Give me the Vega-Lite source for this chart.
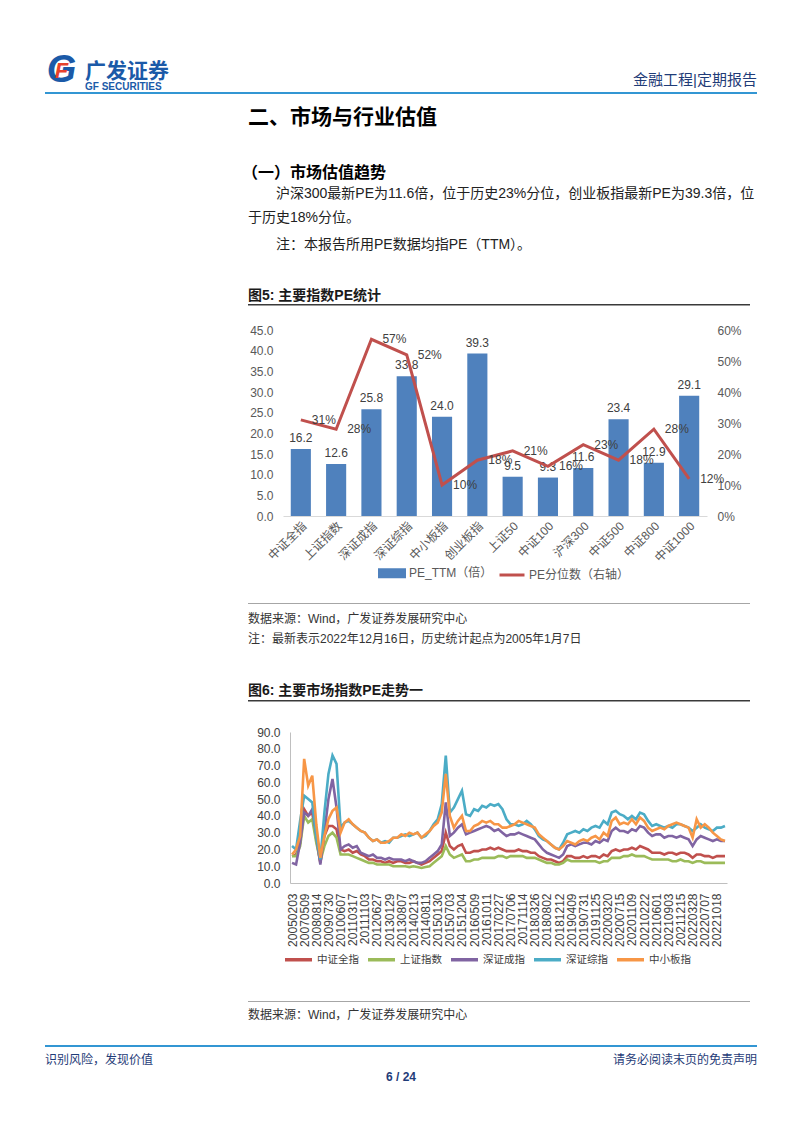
{
"$schema": "https://vega.github.io/schema/vega-lite/v6.json",
"background": "white",
"padding": {"left": 45, "top": 0, "right": 0, "bottom": 0},
"columns": 3,
"spacing": 0,
"bounds": "flush",
"align": "each",
"resolve": {"scale": {"color": "independent"}, "legend": {"color": "independent"}},
"datasets": {"e": []},
"config": {
  "view": {"stroke": null},
  "font": "Liberation Sans, Noto Sans CJK SC",
  "title": {"frame": "group", "anchor": "start", "offset": -1, "color": "#1a1a1a", "font": "Liberation Sans, Noto Sans CJK SC", "fontWeight": "normal", "fontSize": 14, "limit": 900},
  "axis": {"labelFont": "Liberation Sans, Noto Sans CJK SC", "labelFontSize": 12, "labelColor": "#595959", "ticks": false, "grid": false, "title": null},
  "legend": {"labelFont": "Liberation Sans, Noto Sans CJK SC", "labelFontSize": 12, "labelColor": "#404040", "title": null}
},
"concat": [
  {"width": 1, "height": 57, "data": {"name": "e"}, "mark": "point"},
  {"width": 1, "height": 0.01, "data": {"name": "e"}, "mark": "point"},
  {"width": 1, "height": 0.01, "data": {"name": "e"}, "mark": "point"},

  {"width": 33, "height": 28, "data": {"values": [{"g": "G", "f": "F"}]},
   "layer": [
     {"mark": {"type": "text", "font": "Liberation Sans", "fontSize": 38, "fontWeight": "bold", "fontStyle": "italic", "color": "#1B5AA8", "baseline": "middle"}, "encoding": {"text": {"field": "g", "type": "nominal"}}},
     {"mark": {"type": "text", "font": "Liberation Sans", "fontSize": 22, "fontWeight": "bold", "fontStyle": "italic", "color": "#E8412C", "baseline": "middle"}, "encoding": {"text": {"field": "f", "type": "nominal"}}}
   ],
   "title": {"text": "广发证券", "subtitle": "GF SECURITIES", "fontSize": 21, "fontWeight": "bold", "color": "#1B5AA8", "subtitleFont": "Liberation Sans", "subtitleFontSize": 10, "subtitleFontWeight": "bold", "subtitleColor": "#1B5AA8", "subtitlePadding": 0, "dx": 40, "offset": -40}},
  {"width": 1, "height": 35, "data": {"name": "e"}, "mark": "point"},
  {"width": 474, "height": 0.01, "data": {"name": "e"}, "mark": "point",
   "title": {"text": "金融工程|定期报告", "anchor": "end", "fontSize": 15, "color": "#1F3C78", "offset": -30.7}},

  {"width": 203, "height": 2, "data": {"name": "e"}, "mark": "point", "view": {"fill": "#3396D3", "stroke": null}},
  {"width": 35, "height": 2, "data": {"name": "e"}, "mark": "point", "view": {"fill": "#3396D3", "stroke": null}},
  {"width": 474, "height": 2, "data": {"name": "e"}, "mark": "point", "view": {"fill": "#3396D3", "stroke": null}},

  {"width": 1, "height": 33, "data": {"name": "e"}, "mark": "point"},
  {"width": 1, "height": 0.01, "data": {"name": "e"}, "mark": "point"},
  {"width": 1, "height": 0.01, "data": {"name": "e"}, "mark": "point"},

  {"width": 1, "height": 53, "data": {"name": "e"}, "mark": "point"},
  {"width": 1, "height": 0.01, "data": {"name": "e"}, "mark": "point", "title": {"text": "二、市场与行业估值", "fontSize": 21, "fontWeight": "bold", "color": "#000000", "offset": -0.5}},
  {"width": 1, "height": 0.01, "data": {"name": "e"}, "mark": "point"},

  {"width": 1, "height": 20, "data": {"name": "e"}, "mark": "point"},
  {"width": 1, "height": 0.01, "data": {"name": "e"}, "mark": "point", "title": {"text": "（一）市场估值趋势", "fontSize": 16, "fontWeight": "bold", "color": "#000000", "dx": -6}},
  {"width": 1, "height": 0.01, "data": {"name": "e"}, "mark": "point"},

  {"width": 1, "height": 24, "data": {"name": "e"}, "mark": "point"},
  {"width": 1, "height": 0.01, "data": {"name": "e"}, "mark": "point", "title": {"text": "沪深300最新PE为11.6倍，位于历史23%分位，创业板指最新PE为39.3倍，位", "fontSize": 14, "color": "#222222", "dx": 28}},
  {"width": 1, "height": 0.01, "data": {"name": "e"}, "mark": "point"},

  {"width": 1, "height": 27, "data": {"name": "e"}, "mark": "point"},
  {"width": 1, "height": 0.01, "data": {"name": "e"}, "mark": "point", "title": {"text": "于历史18%分位。", "fontSize": 14, "color": "#222222"}},
  {"width": 1, "height": 0.01, "data": {"name": "e"}, "mark": "point"},

  {"width": 1, "height": 51, "data": {"name": "e"}, "mark": "point"},
  {"width": 1, "height": 0.01, "data": {"name": "e"}, "mark": "point", "title": {"text": "注：本报告所用PE数据均指PE（TTM）。", "fontSize": 14, "color": "#222222", "dx": 28}},
  {"width": 1, "height": 0.01, "data": {"name": "e"}, "mark": "point"},

  {"width": 1, "height": 2, "data": {"name": "e"}, "mark": "point"},
  {"width": 1, "height": 0.01, "data": {"name": "e"}, "mark": "point", "title": {"text": "图5:  主要指数PE统计", "fontSize": 14, "fontWeight": "bold", "color": "#1a1a1a"}},
  {"width": 1, "height": 0.01, "data": {"name": "e"}, "mark": "point"},

  {"width": 1, "height": 1.5, "data": {"name": "e"}, "mark": "point"},
  {"width": 35, "height": 1.5, "data": {"name": "e"}, "mark": "point", "view": {"fill": "#3a3a3a", "stroke": null}},
  {"width": 467, "height": 1.5, "data": {"name": "e"}, "mark": "point", "view": {"fill": "#3a3a3a", "stroke": null}},

  {"width": 1, "height": 24, "data": {"name": "e"}, "mark": "point"},
  {"width": 1, "height": 0.01, "data": {"name": "e"}, "mark": "point"},
  {"width": 1, "height": 0.01, "data": {"name": "e"}, "mark": "point"},

  {"width": 1, "height": 186, "data": {"name": "e"}, "mark": "point"},
  {"width": 1, "height": 0.01, "data": {"name": "e"}, "mark": "point"},
  {"width": 424, "height": 186,
   "data": {"values": [
     {"name": "中证全指", "pe": 16.2, "pct": 0.31},
     {"name": "上证指数", "pe": 12.6, "pct": 0.28},
     {"name": "深证成指", "pe": 25.8, "pct": 0.57},
     {"name": "深证综指", "pe": 33.8, "pct": 0.52},
     {"name": "中小板指", "pe": 24.0, "pct": 0.10},
     {"name": "创业板指", "pe": 39.3, "pct": 0.18},
     {"name": "上证50", "pe": 9.5, "pct": 0.21},
     {"name": "中证100", "pe": 9.3, "pct": 0.16},
     {"name": "沪深300", "pe": 11.6, "pct": 0.23},
     {"name": "中证500", "pe": 23.4, "pct": 0.18},
     {"name": "中证800", "pe": 12.9, "pct": 0.28},
     {"name": "中证1000", "pe": 29.1, "pct": 0.12}
   ]},
   "encoding": {
     "x": {"field": "name", "type": "nominal", "sort": null,
       "scale": {"paddingInner": 0.43, "paddingOuter": 0.22},
       "axis": {"labelAngle": -45, "domainColor": "#D9D9D9", "domainWidth": 1, "labelPadding": 4, "labelColor": "#595959", "title": null}}
   },
   "layer": [
     {"encoding": {"y": {"field": "pe", "type": "quantitative", "scale": {"domain": [0, 45]},
        "axis": {"values": [0, 5, 10, 15, 20, 25, 30, 35, 40, 45], "format": ".1f", "domain": false, "labelPadding": 10, "title": null}}},
      "layer": [
        {"mark": {"type": "bar"},
         "encoding": {"color": {"datum": "PE_TTM（倍）", "type": "nominal",
           "scale": {"domain": ["PE_TTM（倍）", "PE分位数（右轴）"], "range": ["#4F81BD", "#C0504D"]},
           "legend": {"orient": "none", "legendX": 95, "legendY": 229, "padding": 0, "direction": "horizontal", "title": null, "symbolSize": 625, "labelColor": "#595959", "columnPadding": 0, "labelOffset": 3,
             "encode": {"symbols": {"update": {
               "shape": {"signal": "datum.value === 'PE_TTM（倍）' ? 'M-1,-0.28H1V0.28H-1Z' : 'M-1,0H1'"},
               "fill": {"signal": "datum.value === 'PE_TTM（倍）' ? '#4F81BD' : 'transparent'"},
               "stroke": {"signal": "datum.value === 'PE_TTM（倍）' ? 'transparent' : '#C0504D'"},
               "strokeWidth": {"value": 3}}}}}}}},
        {"mark": {"type": "text", "dy": -11, "fontSize": 12, "color": "#404040"},
         "encoding": {"text": {"field": "pe", "type": "quantitative", "format": ".1f"}}}
      ]},
     {"encoding": {"y": {"field": "pct", "type": "quantitative", "scale": {"domain": [0, 0.6]},
        "axis": {"orient": "right", "values": [0, 0.1, 0.2, 0.3, 0.4, 0.5, 0.6], "format": ".0%", "domain": false, "labelPadding": 10, "title": null}}},
      "layer": [
        {"mark": {"type": "line", "strokeWidth": 3},
         "encoding": {"color": {"datum": "PE分位数（右轴）", "type": "nominal"}}},
        {"mark": {"type": "text", "align": "left", "dx": 11, "fontSize": 12, "color": "#404040"},
         "encoding": {"text": {"field": "pct", "type": "quantitative", "format": ".0%"}}}
      ]}
   ],
   "resolve": {"scale": {"y": "independent"}}
  },

  {"width": 1, "height": 87, "data": {"name": "e"}, "mark": "point"},
  {"width": 1, "height": 0.01, "data": {"name": "e"}, "mark": "point"},
  {"width": 1, "height": 0.01, "data": {"name": "e"}, "mark": "point"},

  {"width": 1, "height": 1, "data": {"name": "e"}, "mark": "point"},
  {"width": 35, "height": 1, "data": {"name": "e"}, "mark": "point", "view": {"fill": "#A6A6A6", "stroke": null}},
  {"width": 467, "height": 1, "data": {"name": "e"}, "mark": "point", "view": {"fill": "#A6A6A6", "stroke": null}},

  {"width": 1, "height": 20, "data": {"name": "e"}, "mark": "point"},
  {"width": 1, "height": 0.01, "data": {"name": "e"}, "mark": "point"},
  {"width": 1, "height": 0.01, "data": {"name": "e"}, "mark": "point"},

  {"width": 1, "height": 20, "data": {"name": "e"}, "mark": "point"},
  {"width": 1, "height": 0.01, "data": {"name": "e"}, "mark": "point", "title": {"text": "数据来源：Wind，广发证券发展研究中心", "fontSize": 12, "color": "#333333", "offset": -1.8}},
  {"width": 1, "height": 0.01, "data": {"name": "e"}, "mark": "point"},

  {"width": 1, "height": 53, "data": {"name": "e"}, "mark": "point"},
  {"width": 1, "height": 0.01, "data": {"name": "e"}, "mark": "point", "title": {"text": "注：最新表示2022年12月16日，历史统计起点为2005年1月7日", "fontSize": 12, "color": "#333333", "offset": -2.2}},
  {"width": 1, "height": 0.01, "data": {"name": "e"}, "mark": "point"},

  {"width": 1, "height": 3, "data": {"name": "e"}, "mark": "point"},
  {"width": 1, "height": 0.01, "data": {"name": "e"}, "mark": "point", "title": {"text": "图6:  主要市场指数PE走势一", "fontSize": 14, "fontWeight": "bold", "color": "#1a1a1a"}},
  {"width": 1, "height": 0.01, "data": {"name": "e"}, "mark": "point"},

  {"width": 1, "height": 1.5, "data": {"name": "e"}, "mark": "point"},
  {"width": 35, "height": 1.5, "data": {"name": "e"}, "mark": "point", "view": {"fill": "#3a3a3a", "stroke": null}},
  {"width": 467, "height": 1.5, "data": {"name": "e"}, "mark": "point", "view": {"fill": "#3a3a3a", "stroke": null}},

  {"width": 1, "height": 30, "data": {"name": "e"}, "mark": "point"},
  {"width": 1, "height": 0.01, "data": {"name": "e"}, "mark": "point"},
  {"width": 1, "height": 0.01, "data": {"name": "e"}, "mark": "point"},

  {"width": 1, "height": 151, "data": {"name": "e"}, "mark": "point"},
  {"width": 1, "height": 0.01, "data": {"name": "e"}, "mark": "point"},
  {"width": 444, "height": 151,
   "data": {"values": [
{"d":"20050203","中证全指":16,"上证指数":16,"深证成指":12,"深证综指":22,"中小板指":17},
{"d":"20051110","中证全指":17,"上证指数":16,"深证成指":11,"深证综指":20,"中小板指":20},
{"d":"20060815","中证全指":24,"上证指数":22,"深证成指":24,"深证综指":37,"中小板指":28},
{"d":"20070509","中证全指":44,"上证指数":40,"深证成指":42,"深证综指":52,"中小板指":74},
{"d":"20071010","中证全指":40,"上证指数":36,"深证成指":40,"深证综指":50,"中小板指":58},
{"d":"20080320","中证全指":42,"上证指数":38,"深证成指":44,"深证综指":48,"中小板指":64},
{"d":"20080814","中证全指":26,"上证指数":24,"深证成指":28,"深证综指":28,"中小板指":35},
{"d":"20081125","中证全指":12,"上证指数":13,"深证成指":11,"深证综指":14,"中小板指":15},
{"d":"20090415","中证全指":28,"上证指数":22,"深证成指":30,"深证综指":42,"中小板指":28},
{"d":"20090730","中证全指":34,"上证指数":28,"深证成指":50,"深证综指":65,"中小板指":38},
{"d":"20091110","中证全指":34,"上证指数":30,"深证成指":62,"深证综指":76,"中小板指":43},
{"d":"20100222","中证全指":32,"上证指数":27,"深证成指":45,"深证综指":71,"中小板指":45},
{"d":"20100607","中证全指":20,"上证指数":17,"深证成指":20,"深证综指":33,"中小板指":30},
{"d":"20100909","中证全指":19,"上证指数":17,"深证成指":22,"深证综指":36,"中小板指":36},
{"d":"20101213","中证全指":20,"上证指数":17,"深证成指":23,"深证综指":37,"中小板指":38},
{"d":"20110317","中证全指":18,"上证指数":16,"深证成指":21,"深证综指":35,"中小板指":35},
{"d":"20110620","中证全指":19,"上证指数":15,"深证成指":22,"深证综指":33,"中小板指":33},
{"d":"20110819","中证全指":17,"上证指数":14,"深证成指":18,"深证综指":31,"中小板指":31},
{"d":"20111103","中证全指":16,"上证指数":13,"深证成指":17,"深证综指":30,"中小板指":30},
{"d":"20120216","中证全指":14,"上证指数":12,"深证成指":16,"深证综指":27,"中小板指":27},
{"d":"20120420","中证全指":14,"上证指数":12,"深证成指":17,"深证综指":25,"中小板指":25},
{"d":"20120627","中证全指":13,"上证指数":11,"深证成指":15,"深证综指":26,"中小板指":26},
{"d":"20120920","中证全指":13,"上证指数":11,"深证成指":15,"深证综指":24,"中小板指":24},
{"d":"20121120","中证全指":12,"上证指数":11,"深证成指":14,"深证综指":25,"中小板指":24},
{"d":"20130129","中证全指":13,"上证指数":11,"深证成指":15,"深证综指":24,"中小板指":25},
{"d":"20130415","中证全指":12,"上证指数":10,"深证成指":14,"深证综指":27,"中小板指":27},
{"d":"20130614","中证全指":13,"上证指数":10,"深证成指":14,"深证综指":27,"中小板指":27},
{"d":"20130807","中证全指":13,"上证指数":10,"深证成指":14,"深证综指":28,"中小板指":29},
{"d":"20131021","中证全指":12,"上证指数":10,"深证成指":13,"深证综指":29,"中小板指":28},
{"d":"20131210","中证全指":12,"上证指数":9.5,"深证成指":14,"深证综指":28,"中小板指":30},
{"d":"20140213","中证全指":13,"上证指数":10,"深证成指":13,"深证综指":29,"中小板指":29},
{"d":"20140418","中证全指":12,"上证指数":9.5,"深证成指":12,"深证综指":30,"中小板指":30},
{"d":"20140616","中证全指":11,"上证指数":9,"深证成指":12,"深证综指":27,"中小板指":27},
{"d":"20140811","中证全指":12,"上证指数":9.5,"深证成指":13,"深证综指":28,"中小板指":29},
{"d":"20141015","中证全指":13,"上证指数":10,"深证成指":15,"深证综指":31,"中小板指":31},
{"d":"20141205","中证全指":15,"上证指数":12,"深证成指":17,"深证综指":35,"中小板指":34},
{"d":"20150130","中证全指":17,"上证指数":14,"深证成指":19,"深证综指":38,"中小板指":36},
{"d":"20150403","中证全指":19,"上证指数":16,"深证成指":23,"深证综指":47,"中小板指":42},
{"d":"20150605","中证全指":30,"上证指数":22,"深证成指":48,"深证综指":76,"中小板指":65},
{"d":"20150703","中证全指":22,"上证指数":17,"深证成指":28,"深证综指":42,"中小板指":40},
{"d":"20150902","中证全指":20,"上证指数":15,"深证成指":30,"深证综指":45,"中小板指":33},
{"d":"20151020","中证全指":22,"上证指数":16,"深证成指":33,"深证综指":50,"中小板指":37},
{"d":"20151204","中证全指":23,"上证指数":17,"深证成指":35,"深证综指":55,"中小板指":40},
{"d":"20160203","中证全指":18,"上证指数":13,"深证成指":29,"深证综指":41,"中小板指":31},
{"d":"20160315","中证全指":18,"上证指数":13,"深证成指":30,"深证综指":40,"中小板指":31},
{"d":"20160509","中证全指":19,"上证指数":14,"深证成指":31,"深证综指":44,"中小板指":34},
{"d":"20160701","中证全指":19,"上证指数":14,"深证成指":32,"深证综指":43,"中小板指":35},
{"d":"20160829","中证全指":20,"上证指数":15,"深证成指":33,"深证综指":46,"中小板指":37},
{"d":"20161011","中证全指":20,"上证指数":15,"深证成指":34,"深证综指":45,"中小板指":36},
{"d":"20161125","中证全指":21,"上证指数":15,"深证成指":33,"深证综指":47,"中小板指":37},
{"d":"20170110","中证全指":20,"上证指数":15,"深证成指":31,"深证综指":46,"中小板指":35},
{"d":"20170227","中证全指":21,"上证指数":16,"深证成指":32,"深证综指":47,"中小板指":35},
{"d":"20170426","中证全指":20,"上证指数":16,"深证成指":30,"深证综指":44,"中小板指":33},
{"d":"20170531","中证全指":19,"上证指数":15,"深证成指":28,"深证综指":38,"中小板指":33},
{"d":"20170706","中证全指":19,"上证指数":16,"深证成指":29,"深证综指":35,"中小板指":34},
{"d":"20170822","中证全指":19,"上证指数":16,"深证成指":29,"深证综指":35,"中小板指":35},
{"d":"20170929","中证全指":20,"上证指数":16,"深证成指":30,"深证综指":34,"中小板指":37},
{"d":"20171114","中证全指":19,"上证指数":16,"深证成指":29,"深证综指":35,"中小板指":36},
{"d":"20171228","中证全指":19,"上证指数":15,"深证成指":28,"深证综指":37,"中小板指":35},
{"d":"20180208","中证全指":18,"上证指数":15,"深证成指":27,"深证综指":35,"中小板指":34},
{"d":"20180326","中证全指":18,"上证指数":15,"深证成指":26,"深证综指":32,"中小板指":33},
{"d":"20180510","中证全指":16,"上证指数":14,"深证成指":23,"深证综指":28,"中小板指":29},
{"d":"20180619","中证全指":15,"上证指数":13,"深证成指":20,"深证综指":26,"中小板指":27},
{"d":"20180802","中证全指":14,"上证指数":12,"深证成指":18,"深证综指":25,"中小板指":25},
{"d":"20180918","中证全指":14,"上证指数":12,"深证成指":17,"深证综指":23,"中小板指":23},
{"d":"20181029","中证全指":13,"上证指数":11,"深证成指":16,"深证综指":21,"中小板指":21},
{"d":"20181212","中证全指":12,"上证指数":11,"深证成指":15,"深证综指":20,"中小板指":20},
{"d":"20190128","中证全指":13,"上证指数":12,"深证成指":17,"深证综指":24,"中小板指":22},
{"d":"20190304","中证全指":16,"上证指数":14,"深证成指":22,"深证综指":29,"中小板指":25},
{"d":"20190409","中证全指":16,"上证指数":13,"深证成指":23,"深证综指":30,"中小板指":24},
{"d":"20190521","中证全指":15,"上证指数":13,"深证成指":22,"深证综指":31,"中小板指":23},
{"d":"20190626","中证全指":15,"上证指数":13,"深证成指":23,"深证综指":30,"中小板指":25},
{"d":"20190731","中证全指":16,"上证指数":13,"深证成指":24,"深证综指":32,"中小板指":26},
{"d":"20190910","中证全指":15,"上证指数":13,"深证成指":24,"深证综指":31,"中小板指":25},
{"d":"20191021","中证全指":16,"上证指数":13,"深证成指":23,"深证综指":33,"中小板指":27},
{"d":"20191125","中证全指":16,"上证指数":13,"深证成指":25,"深证综指":34,"中小板指":28},
{"d":"20200106","中证全指":15,"上证指数":12,"深证成指":24,"深证综指":33,"中小板指":26},
{"d":"20200214","中证全指":17,"上证指数":13,"深证成指":26,"深证综指":37,"中小板指":30},
{"d":"20200320","中证全指":16,"上证指数":13,"深证成指":25,"深证综指":35,"中小板指":28},
{"d":"20200430","中证全指":19,"上证指数":15,"深证成指":31,"深证综指":42,"中小板指":37},
{"d":"20200608","中证全指":20,"上证指数":15,"深证成指":33,"深证综指":43,"中小板指":39},
{"d":"20200715","中证全指":19,"上证指数":15,"深证成指":31,"深证综指":41,"中小板指":35},
{"d":"20200821","中证全指":20,"上证指数":16,"深证成指":31,"深证综指":40,"中小板指":36},
{"d":"20200929","中证全指":20,"上证指数":16,"深证成指":30,"深证综指":38,"中小板指":35},
{"d":"20201109","中证全指":21,"上证指数":17,"深证成指":32,"深证综指":40,"中小板指":38},
{"d":"20201215","中证全指":20,"上证指数":16,"深证成指":31,"深证综指":38,"中小板指":35},
{"d":"20210122","中证全指":22,"上证指数":16,"深证成指":34,"深证综指":42,"中小板指":39},
{"d":"20210222","中证全指":21,"上证指数":16,"深证成指":33,"深证综指":41,"中小板指":37},
{"d":"20210331","中证全指":20,"上证指数":15,"深证成指":30,"深证综指":37,"中小板指":33},
{"d":"20210507","中证全指":18,"上证指数":14,"深证成指":28,"深证综指":34,"中小板指":31},
{"d":"20210601","中证全指":18,"上证指数":14,"深证成指":29,"深证综指":35,"中小板指":32},
{"d":"20210701","中证全指":18,"上证指数":14,"深证成指":29,"深证综指":34,"中小板指":33},
{"d":"20210804","中证全指":17,"上证指数":14,"深证成指":27,"深证综指":33,"中小板指":32},
{"d":"20210903","中证全指":18,"上证指数":14,"深证成指":28,"深证综指":34,"中小板指":34},
{"d":"20211015","中证全指":18,"上证指数":13,"深证成指":28,"深证综指":33,"中小板指":35},
{"d":"20211115","中证全指":17,"上证指数":13,"深证成指":27,"深证综指":35,"中小板指":36},
{"d":"20211215","中证全指":18,"上证指数":14,"深证成指":28,"深证综指":35,"中小板指":35},
{"d":"20220125","中证全指":18,"上证指数":13,"深证成指":27,"深证综指":34,"中小板指":34},
{"d":"20220228","中证全指":17,"上证指数":13,"深证成指":26,"深证综指":33,"中小板指":33},
{"d":"20220328","中证全指":15,"上证指数":12,"深证成指":22,"深证综指":31,"中小板指":27},
{"d":"20220429","中证全指":17,"上证指数":13,"深证成指":26,"深证综指":33,"中小板指":38},
{"d":"20220606","中证全指":17,"上证指数":13,"深证成指":28,"深证综指":35,"中小板指":33},
{"d":"20220707","中证全指":16,"上证指数":12,"深证成指":27,"深证综指":33,"中小板指":35},
{"d":"20220809","中证全指":16,"上证指数":12,"深证成指":26,"深证综指":32,"中小板指":33},
{"d":"20220913","中证全指":15,"上证指数":12,"深证成指":25,"深证综指":31,"中小板指":30},
{"d":"20221018","中证全指":16,"上证指数":12,"深证成指":26,"深证综指":33,"中小板指":28},
{"d":"20221116","中证全指":16,"上证指数":12,"深证成指":25,"深证综指":33,"中小板指":26},
{"d":"20221216","中证全指":16,"上证指数":12,"深证成指":25,"深证综指":34,"中小板指":25}
   ]},
   "transform": [{"fold": ["中证全指", "上证指数", "深证成指", "深证综指", "中小板指"], "as": ["idx", "pe"]}],
   "mark": {"type": "line", "strokeWidth": 2.6},
   "encoding": {
     "x": {"field": "d", "type": "ordinal", "scale": {"type": "point", "range": [7, 444]},
       "axis": {"values": ["20050203","20070509","20080814","20090730","20100607","20110317","20111103","20120627","20130129","20130807","20140213","20140811","20150130","20150703","20151204","20160509","20161011","20170227","20170706","20171114","20180326","20180802","20181212","20190409","20190731","20191125","20200320","20200715","20201109","20210222","20210601","20210903","20211215","20220328","20220707","20221018"],
         "labelAngle": -90, "labelOverlap": false, "domainColor": "#BFBFBF", "labelPadding": 10, "labelColor": "#404040", "title": null}},
     "y": {"field": "pe", "type": "quantitative", "scale": {"domain": [0, 90]},
       "axis": {"values": [0, 10, 20, 30, 40, 50, 60, 70, 80, 90], "format": ".1f", "domainColor": "#BFBFBF", "offset": -7, "labelPadding": 10, "labelColor": "#404040", "title": null}},
     "color": {"field": "idx", "type": "nominal", "sort": null,
       "scale": {"domain": ["中证全指", "上证指数", "深证成指", "深证综指", "中小板指"], "range": ["#C0504D", "#9BBB59", "#8064A2", "#4BACC6", "#F79646"]},
       "legend": {"orient": "bottom", "direction": "horizontal", "title": null, "symbolType": "stroke", "symbolSize": 729, "symbolStrokeWidth": 3.5, "columnPadding": 2, "labelOffset": 3, "offset": -3, "labelFontSize": 10.5, "labelColor": "#404040"}}
   }
  },

  {"width": 1, "height": 118, "data": {"name": "e"}, "mark": "point"},
  {"width": 1, "height": 0.01, "data": {"name": "e"}, "mark": "point"},
  {"width": 1, "height": 0.01, "data": {"name": "e"}, "mark": "point"},

  {"width": 1, "height": 1, "data": {"name": "e"}, "mark": "point"},
  {"width": 35, "height": 1, "data": {"name": "e"}, "mark": "point", "view": {"fill": "#A6A6A6", "stroke": null}},
  {"width": 467, "height": 1, "data": {"name": "e"}, "mark": "point", "view": {"fill": "#A6A6A6", "stroke": null}},

  {"width": 1, "height": 18, "data": {"name": "e"}, "mark": "point"},
  {"width": 1, "height": 0.01, "data": {"name": "e"}, "mark": "point"},
  {"width": 1, "height": 0.01, "data": {"name": "e"}, "mark": "point"},

  {"width": 1, "height": 25, "data": {"name": "e"}, "mark": "point"},
  {"width": 1, "height": 0.01, "data": {"name": "e"}, "mark": "point", "title": {"text": "数据来源：Wind，广发证券发展研究中心", "fontSize": 12, "color": "#333333", "offset": -2}},
  {"width": 1, "height": 0.01, "data": {"name": "e"}, "mark": "point"},

  {"width": 203, "height": 2, "data": {"name": "e"}, "mark": "point", "view": {"fill": "#3396D3", "stroke": null}},
  {"width": 35, "height": 2, "data": {"name": "e"}, "mark": "point", "view": {"fill": "#3396D3", "stroke": null}},
  {"width": 474, "height": 2, "data": {"name": "e"}, "mark": "point", "view": {"fill": "#3396D3", "stroke": null}},

  {"width": 1, "height": 17, "data": {"name": "e"}, "mark": "point"},
  {"width": 1, "height": 0.01, "data": {"name": "e"}, "mark": "point"},
  {"width": 1, "height": 0.01, "data": {"name": "e"}, "mark": "point"},

  {"width": 1, "height": 17, "data": {"name": "e"}, "mark": "point", "title": {"text": "识别风险，发现价值", "fontSize": 12, "color": "#1F3C78", "offset": -2.5}},
  {"width": 1, "height": 0.01, "data": {"name": "e"}, "mark": "point"},
  {"width": 474, "height": 0.01, "data": {"name": "e"}, "mark": "point", "title": {"text": "请务必阅读末页的免责声明", "anchor": "end", "fontSize": 12, "color": "#1F3C78", "offset": -2.5}},

  {"width": 1, "height": 0.01, "data": {"name": "e"}, "mark": "point", "title": {"text": "6 / 24", "fontSize": 12, "fontWeight": "bold", "color": "#1F3C78", "dx": 356, "align": "center", "offset": -2.5}},
  {"width": 1, "height": 0.01, "data": {"name": "e"}, "mark": "point"},
  {"width": 1, "height": 0.01, "data": {"name": "e"}, "mark": "point"}
]
}
